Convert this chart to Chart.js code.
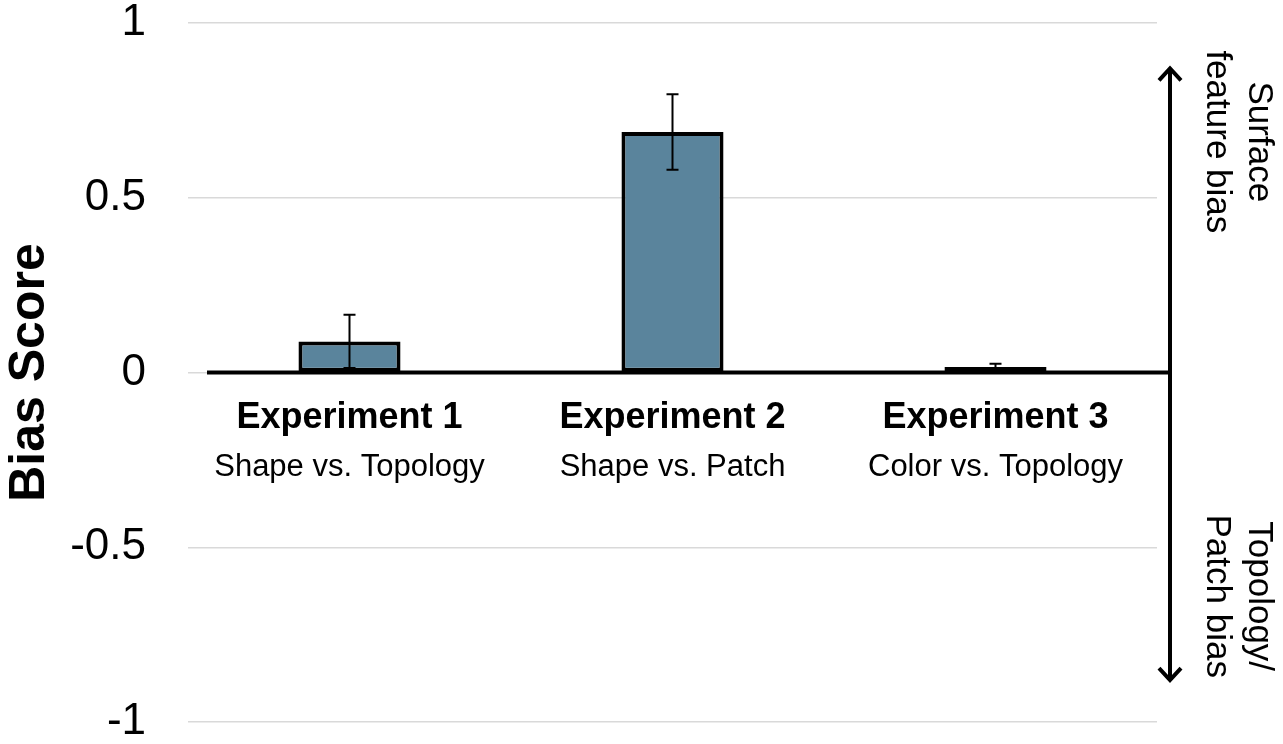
<!DOCTYPE html>
<html lang="en">
<head>
  <meta charset="UTF-8" />
  <title>Bias Score</title>
  <script src="https://cdn.jsdelivr.net/npm/chart.js"></script>
  <style>
    html, body { margin: 0; padding: 0; background: #fff; }
    #wrap { width: 1283px; height: 744px; }
  </style>
</head>
<body>
  <div id="wrap"><canvas id="biasChart"></canvas></div>

  <script>
    const experiments = ['Experiment 1', 'Experiment 2', 'Experiment 3'];
    const conditions = ['Shape vs. Topology', 'Shape vs. Patch', 'Color vs. Topology'];
    const biasScores = [0.089, 0.688, 0.016];
    const errors = [0.076, 0.108, 0.009];
    const yTicks = [-1, -0.5, 0, 0.5, 1];
    const upperLabel = ['Surface', 'feature bias'];
    const lowerLabel = ['Topology/', 'Patch bias'];

    const FONT = "'Liberation Sans', Arial, sans-serif";

    // error bars, zero line, category captions and the side arrow
    const extras = {
      id: 'extras',
      afterDatasetsDraw(chart) {
        const ctx = chart.ctx;
        const x = chart.scales.x;
        const y = chart.scales.y;
        const y0 = y.getPixelForValue(0);
        const arrowX = chart.chartArea.right + 13;

        ctx.save();
        // error bars
        ctx.strokeStyle = '#000';
        ctx.lineWidth = 2;
        biasScores.forEach((v, i) => {
          const px = x.getPixelForValue(i);
          const top = y.getPixelForValue(v + errors[i]);
          const bot = y.getPixelForValue(v - errors[i]);
          ctx.beginPath();
          ctx.moveTo(px, top); ctx.lineTo(px, bot);
          ctx.moveTo(px - 6, top); ctx.lineTo(px + 6, top);
          ctx.moveTo(px - 6, bot); ctx.lineTo(px + 6, bot);
          ctx.stroke();
        });

        // zero line
        ctx.lineWidth = 4;
        ctx.beginPath();
        ctx.moveTo(chart.chartArea.left + 19, y0);
        ctx.lineTo(arrowX, y0);
        ctx.stroke();

        // double arrow
        const aTop = y.getPixelForValue(0.87);
        const aBot = y.getPixelForValue(-0.88);
        ctx.lineWidth = 4;
        ctx.beginPath();
        ctx.moveTo(arrowX, aTop); ctx.lineTo(arrowX, aBot);
        ctx.moveTo(arrowX - 11, aTop + 12); ctx.lineTo(arrowX, aTop); ctx.lineTo(arrowX + 11, aTop + 12);
        ctx.moveTo(arrowX - 11, aBot - 12); ctx.lineTo(arrowX, aBot); ctx.lineTo(arrowX + 11, aBot - 12);
        ctx.stroke();

        // category captions
        ctx.fillStyle = '#000';
        ctx.textAlign = 'center';
        ctx.textBaseline = 'middle';
        experiments.forEach((name, i) => {
          const px = x.getPixelForValue(i);
          ctx.font = 'bold 36px ' + FONT;
          ctx.fillText(name, px, y0 + 46);
          ctx.font = '31px ' + FONT;
          ctx.fillText(conditions[i], px, y0 + 95);
        });

        // rotated side labels
        ctx.font = '35px ' + FONT;
        const sideText = (lines, cy) => {
          ctx.save();
          ctx.translate(1238, cy);
          ctx.rotate(Math.PI / 2);
          ctx.fillText(lines[0], 0, -21);
          ctx.fillText(lines[1], 0, 21);
          ctx.restore();
        };
        sideText(upperLabel, y.getPixelForValue(0.66));
        sideText(lowerLabel, y.getPixelForValue(-0.64));
        ctx.restore();
      }
    };

    new Chart(document.getElementById('biasChart'), {
      type: 'bar',
      data: {
        labels: experiments,
        datasets: [{
          data: biasScores,
          backgroundColor: '#5A849C',
          borderColor: '#000',
          borderWidth: 4,
          borderSkipped: false,
          barPercentage: 0.316,
          categoryPercentage: 1
        }]
      },
      options: {
        responsive: true,
        maintainAspectRatio: false,
        animation: false,
        layout: { padding: { top: 23, bottom: 22, right: 126, left: 0 } },
        plugins: {
          legend: { display: false },
          tooltip: { enabled: false }
        },
        scales: {
          x: { display: false },
          y: {
            min: yTicks[0],
            max: yTicks[yTicks.length - 1],
            afterBuildTicks(scale) {
              scale.ticks = yTicks.map(v => ({ value: v }));
            },
            afterFit(scale) {
              scale.width = 188;
              scale.paddingTop = 0;
              scale.paddingBottom = 0;
            },
            border: { display: false },
            grid: { color: '#d9d9d9', lineWidth: 1.5, drawTicks: false },
            ticks: {
              color: '#000',
              padding: 42,
              font: { family: FONT, size: 44 },
              callback: v => String(v)
            },
            title: {
              display: true,
              text: 'Bias Score',
              color: '#000',
              padding: 0,
              font: { family: FONT, size: 50, weight: 'bold' }
            }
          }
        }
      },
      plugins: [extras]
    });
  </script>
</body>
</html>
